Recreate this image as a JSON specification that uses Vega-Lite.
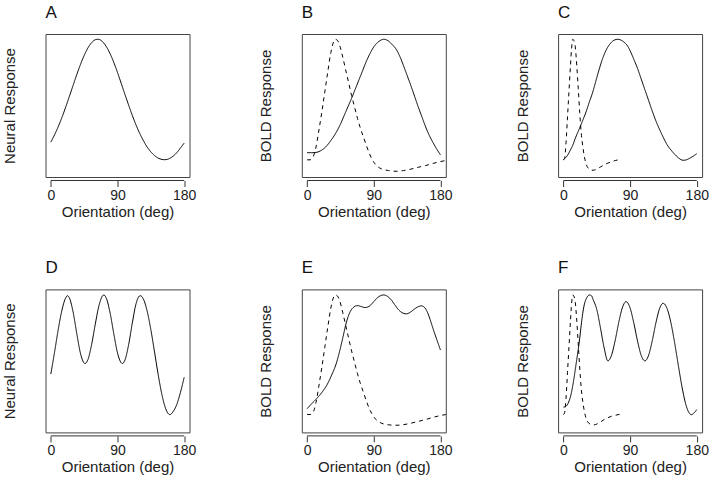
{
  "$schema": "https://vega.github.io/schema/vega-lite/v6.json",
  "background": "white",
  "padding": {"left": 1.5, "top": 3, "right": 5, "bottom": 5},
  "bounds": "flush",
  "columns": 3,
  "spacing": {"row": 112.4, "column": 112.3},
  "data": {"values": [
    {"p":"A","s":"solid","x":0,"y":0.244},{"p":"A","s":"solid","x":5,"y":0.295},{"p":"A","s":"solid","x":10,"y":0.352},{"p":"A","s":"solid","x":15,"y":0.417},{"p":"A","s":"solid","x":20,"y":0.488},{"p":"A","s":"solid","x":25,"y":0.563},{"p":"A","s":"solid","x":30,"y":0.640},{"p":"A","s":"solid","x":35,"y":0.716},{"p":"A","s":"solid","x":40,"y":0.787},{"p":"A","s":"solid","x":45,"y":0.850},{"p":"A","s":"solid","x":50,"y":0.902},{"p":"A","s":"solid","x":55,"y":0.939},{"p":"A","s":"solid","x":60,"y":0.960},{"p":"A","s":"solid","x":63.4,"y":0.963},{"p":"A","s":"solid","x":67,"y":0.958},{"p":"A","s":"solid","x":70,"y":0.945},{"p":"A","s":"solid","x":75,"y":0.911},{"p":"A","s":"solid","x":80,"y":0.862},{"p":"A","s":"solid","x":85,"y":0.801},{"p":"A","s":"solid","x":90,"y":0.731},{"p":"A","s":"solid","x":95,"y":0.655},{"p":"A","s":"solid","x":100,"y":0.578},{"p":"A","s":"solid","x":105,"y":0.503},{"p":"A","s":"solid","x":110,"y":0.431},{"p":"A","s":"solid","x":115,"y":0.364},{"p":"A","s":"solid","x":120,"y":0.305},{"p":"A","s":"solid","x":125,"y":0.254},{"p":"A","s":"solid","x":130,"y":0.210},{"p":"A","s":"solid","x":135,"y":0.176},{"p":"A","s":"solid","x":140,"y":0.150},{"p":"A","s":"solid","x":145,"y":0.132},{"p":"A","s":"solid","x":150,"y":0.123},{"p":"A","s":"solid","x":153,"y":0.121},{"p":"A","s":"solid","x":157,"y":0.123},{"p":"A","s":"solid","x":160,"y":0.129},{"p":"A","s":"solid","x":165,"y":0.145},{"p":"A","s":"solid","x":170,"y":0.170},{"p":"A","s":"solid","x":175,"y":0.203},{"p":"A","s":"solid","x":180,"y":0.237},

    {"p":"B","s":"solid","x":0,"y":0.170},{"p":"B","s":"solid","x":6,"y":0.170},{"p":"B","s":"solid","x":12,"y":0.172},{"p":"B","s":"solid","x":18,"y":0.183},{"p":"B","s":"solid","x":25,"y":0.21},{"p":"B","s":"solid","x":32,"y":0.255},{"p":"B","s":"solid","x":39,"y":0.31},{"p":"B","s":"solid","x":45,"y":0.37},{"p":"B","s":"solid","x":50,"y":0.43},{"p":"B","s":"solid","x":55,"y":0.49},{"p":"B","s":"solid","x":60,"y":0.55},{"p":"B","s":"solid","x":65,"y":0.615},{"p":"B","s":"solid","x":70,"y":0.68},{"p":"B","s":"solid","x":75,"y":0.745},{"p":"B","s":"solid","x":80,"y":0.81},{"p":"B","s":"solid","x":85,"y":0.865},{"p":"B","s":"solid","x":90,"y":0.91},{"p":"B","s":"solid","x":95,"y":0.94},{"p":"B","s":"solid","x":100,"y":0.958},{"p":"B","s":"solid","x":103.3,"y":0.963},{"p":"B","s":"solid","x":106,"y":0.961},{"p":"B","s":"solid","x":110,"y":0.950},{"p":"B","s":"solid","x":115,"y":0.925},{"p":"B","s":"solid","x":120,"y":0.895},{"p":"B","s":"solid","x":125,"y":0.845},{"p":"B","s":"solid","x":130,"y":0.78},{"p":"B","s":"solid","x":135,"y":0.71},{"p":"B","s":"solid","x":140,"y":0.64},{"p":"B","s":"solid","x":145,"y":0.565},{"p":"B","s":"solid","x":150,"y":0.49},{"p":"B","s":"solid","x":155,"y":0.42},{"p":"B","s":"solid","x":160,"y":0.35},{"p":"B","s":"solid","x":165,"y":0.29},{"p":"B","s":"solid","x":170,"y":0.24},{"p":"B","s":"solid","x":175,"y":0.195},{"p":"B","s":"solid","x":180,"y":0.155},

    {"p":"B","s":"dashed","x":0,"y":0.12},{"p":"B","s":"dashed","x":4,"y":0.12},{"p":"B","s":"dashed","x":8,"y":0.14},{"p":"B","s":"dashed","x":12,"y":0.21},{"p":"B","s":"dashed","x":16,"y":0.33},{"p":"B","s":"dashed","x":20,"y":0.46},{"p":"B","s":"dashed","x":24,"y":0.60},{"p":"B","s":"dashed","x":28,"y":0.74},{"p":"B","s":"dashed","x":32,"y":0.87},{"p":"B","s":"dashed","x":35,"y":0.935},{"p":"B","s":"dashed","x":38,"y":0.963},{"p":"B","s":"dashed","x":41,"y":0.955},{"p":"B","s":"dashed","x":44,"y":0.92},{"p":"B","s":"dashed","x":48,"y":0.84},{"p":"B","s":"dashed","x":52,"y":0.75},{"p":"B","s":"dashed","x":56,"y":0.66},{"p":"B","s":"dashed","x":60,"y":0.57},{"p":"B","s":"dashed","x":64,"y":0.49},{"p":"B","s":"dashed","x":68,"y":0.41},{"p":"B","s":"dashed","x":72,"y":0.34},{"p":"B","s":"dashed","x":76,"y":0.28},{"p":"B","s":"dashed","x":80,"y":0.22},{"p":"B","s":"dashed","x":84,"y":0.165},{"p":"B","s":"dashed","x":88,"y":0.12},{"p":"B","s":"dashed","x":92,"y":0.09},{"p":"B","s":"dashed","x":96,"y":0.07},{"p":"B","s":"dashed","x":100,"y":0.058},{"p":"B","s":"dashed","x":105,"y":0.05},{"p":"B","s":"dashed","x":110,"y":0.045},{"p":"B","s":"dashed","x":120,"y":0.04},{"p":"B","s":"dashed","x":130,"y":0.045},{"p":"B","s":"dashed","x":140,"y":0.055},{"p":"B","s":"dashed","x":150,"y":0.068},{"p":"B","s":"dashed","x":160,"y":0.08},{"p":"B","s":"dashed","x":170,"y":0.095},{"p":"B","s":"dashed","x":180,"y":0.108},{"p":"B","s":"dashed","x":190,"y":0.118},

    {"p":"C","s":"solid","x":0,"y":0.122},{"p":"C","s":"solid","x":3,"y":0.135},{"p":"C","s":"solid","x":6,"y":0.155},{"p":"C","s":"solid","x":9,"y":0.185},{"p":"C","s":"solid","x":12.6,"y":0.222},{"p":"C","s":"solid","x":16,"y":0.27},{"p":"C","s":"solid","x":21.5,"y":0.338},{"p":"C","s":"solid","x":26,"y":0.395},{"p":"C","s":"solid","x":30.5,"y":0.455},{"p":"C","s":"solid","x":35,"y":0.525},{"p":"C","s":"solid","x":39.6,"y":0.594},{"p":"C","s":"solid","x":44,"y":0.675},{"p":"C","s":"solid","x":48.5,"y":0.757},{"p":"C","s":"solid","x":53,"y":0.83},{"p":"C","s":"solid","x":57.5,"y":0.886},{"p":"C","s":"solid","x":62,"y":0.925},{"p":"C","s":"solid","x":67,"y":0.952},{"p":"C","s":"solid","x":73.2,"y":0.963},{"p":"C","s":"solid","x":80,"y":0.950},{"p":"C","s":"solid","x":86.7,"y":0.915},{"p":"C","s":"solid","x":92,"y":0.86},{"p":"C","s":"solid","x":95.6,"y":0.816},{"p":"C","s":"solid","x":100,"y":0.76},{"p":"C","s":"solid","x":105,"y":0.685},{"p":"C","s":"solid","x":110,"y":0.61},{"p":"C","s":"solid","x":115,"y":0.535},{"p":"C","s":"solid","x":120,"y":0.46},{"p":"C","s":"solid","x":125,"y":0.39},{"p":"C","s":"solid","x":130,"y":0.33},{"p":"C","s":"solid","x":135,"y":0.275},{"p":"C","s":"solid","x":140,"y":0.225},{"p":"C","s":"solid","x":145,"y":0.19},{"p":"C","s":"solid","x":150,"y":0.16},{"p":"C","s":"solid","x":155,"y":0.135},{"p":"C","s":"solid","x":161.6,"y":0.117},{"p":"C","s":"solid","x":166,"y":0.12},{"p":"C","s":"solid","x":170,"y":0.13},{"p":"C","s":"solid","x":175,"y":0.145},{"p":"C","s":"solid","x":180,"y":0.163},

    {"p":"C","s":"dashed","x":0,"y":0.12},{"p":"C","s":"dashed","x":1.5,"y":0.13},{"p":"C","s":"dashed","x":3.5,"y":0.24},{"p":"C","s":"dashed","x":5.5,"y":0.42},{"p":"C","s":"dashed","x":7.5,"y":0.60},{"p":"C","s":"dashed","x":9.5,"y":0.78},{"p":"C","s":"dashed","x":11,"y":0.90},{"p":"C","s":"dashed","x":12.6,"y":0.963},{"p":"C","s":"dashed","x":14,"y":0.955},{"p":"C","s":"dashed","x":16,"y":0.91},{"p":"C","s":"dashed","x":18,"y":0.78},{"p":"C","s":"dashed","x":20,"y":0.62},{"p":"C","s":"dashed","x":22,"y":0.45},{"p":"C","s":"dashed","x":24,"y":0.31},{"p":"C","s":"dashed","x":26,"y":0.22},{"p":"C","s":"dashed","x":28,"y":0.15},{"p":"C","s":"dashed","x":30.5,"y":0.093},{"p":"C","s":"dashed","x":33,"y":0.065},{"p":"C","s":"dashed","x":36,"y":0.052},{"p":"C","s":"dashed","x":40,"y":0.047},{"p":"C","s":"dashed","x":45,"y":0.055},{"p":"C","s":"dashed","x":50,"y":0.07},{"p":"C","s":"dashed","x":55,"y":0.085},{"p":"C","s":"dashed","x":60,"y":0.097},{"p":"C","s":"dashed","x":65,"y":0.107},{"p":"C","s":"dashed","x":70,"y":0.115},{"p":"C","s":"dashed","x":78,"y":0.124},

    {"p":"D","s":"solid","x":0,"y":0.408},{"p":"D","s":"solid","x":5,"y":0.56},{"p":"D","s":"solid","x":10,"y":0.72},{"p":"D","s":"solid","x":15,"y":0.855},{"p":"D","s":"solid","x":20,"y":0.94},{"p":"D","s":"solid","x":22.3,"y":0.956},{"p":"D","s":"solid","x":25,"y":0.941},{"p":"D","s":"solid","x":30,"y":0.843},{"p":"D","s":"solid","x":35,"y":0.692},{"p":"D","s":"solid","x":40,"y":0.553},{"p":"D","s":"solid","x":46,"y":0.482},{"p":"D","s":"solid","x":50,"y":0.508},{"p":"D","s":"solid","x":55,"y":0.613},{"p":"D","s":"solid","x":60,"y":0.757},{"p":"D","s":"solid","x":65,"y":0.887},{"p":"D","s":"solid","x":71.5,"y":0.961},{"p":"D","s":"solid","x":75,"y":0.937},{"p":"D","s":"solid","x":80,"y":0.836},{"p":"D","s":"solid","x":85,"y":0.690},{"p":"D","s":"solid","x":90,"y":0.556},{"p":"D","s":"solid","x":96.5,"y":0.482},{"p":"D","s":"solid","x":100,"y":0.505},{"p":"D","s":"solid","x":105,"y":0.613},{"p":"D","s":"solid","x":110,"y":0.765},{"p":"D","s":"solid","x":115,"y":0.899},{"p":"D","s":"solid","x":120.6,"y":0.956},{"p":"D","s":"solid","x":125,"y":0.932},{"p":"D","s":"solid","x":130,"y":0.849},{"p":"D","s":"solid","x":135,"y":0.719},{"p":"D","s":"solid","x":140,"y":0.562},{"p":"D","s":"solid","x":145,"y":0.402},{"p":"D","s":"solid","x":150,"y":0.263},{"p":"D","s":"solid","x":155,"y":0.166},{"p":"D","s":"solid","x":160.8,"y":0.124},{"p":"D","s":"solid","x":165,"y":0.145},{"p":"D","s":"solid","x":170,"y":0.195},{"p":"D","s":"solid","x":175,"y":0.28},{"p":"D","s":"solid","x":180,"y":0.385},

    {"p":"E","s":"solid","x":0,"y":0.166},{"p":"E","s":"solid","x":6,"y":0.20},{"p":"E","s":"solid","x":12.6,"y":0.235},{"p":"E","s":"solid","x":20,"y":0.28},{"p":"E","s":"solid","x":26.2,"y":0.327},{"p":"E","s":"solid","x":33,"y":0.40},{"p":"E","s":"solid","x":39.7,"y":0.488},{"p":"E","s":"solid","x":44,"y":0.57},{"p":"E","s":"solid","x":48.6,"y":0.672},{"p":"E","s":"solid","x":52,"y":0.75},{"p":"E","s":"solid","x":55.4,"y":0.81},{"p":"E","s":"solid","x":58.7,"y":0.85},{"p":"E","s":"solid","x":62,"y":0.872},{"p":"E","s":"solid","x":66,"y":0.885},{"p":"E","s":"solid","x":69,"y":0.886},{"p":"E","s":"solid","x":73,"y":0.88},{"p":"E","s":"solid","x":78,"y":0.873},{"p":"E","s":"solid","x":82,"y":0.877},{"p":"E","s":"solid","x":86,"y":0.892},{"p":"E","s":"solid","x":90,"y":0.915},{"p":"E","s":"solid","x":95,"y":0.942},{"p":"E","s":"solid","x":100,"y":0.958},{"p":"E","s":"solid","x":103.3,"y":0.961},{"p":"E","s":"solid","x":108,"y":0.953},{"p":"E","s":"solid","x":113,"y":0.93},{"p":"E","s":"solid","x":118,"y":0.895},{"p":"E","s":"solid","x":123,"y":0.86},{"p":"E","s":"solid","x":128,"y":0.838},{"p":"E","s":"solid","x":134,"y":0.829},{"p":"E","s":"solid","x":140,"y":0.843},{"p":"E","s":"solid","x":145,"y":0.863},{"p":"E","s":"solid","x":150,"y":0.879},{"p":"E","s":"solid","x":154.3,"y":0.885},{"p":"E","s":"solid","x":158,"y":0.876},{"p":"E","s":"solid","x":162,"y":0.845},{"p":"E","s":"solid","x":166,"y":0.79},{"p":"E","s":"solid","x":170,"y":0.725},{"p":"E","s":"solid","x":175,"y":0.65},{"p":"E","s":"solid","x":180,"y":0.576},

    {"p":"E","s":"dashed","x":0,"y":0.125},{"p":"E","s":"dashed","x":4,"y":0.125},{"p":"E","s":"dashed","x":8,"y":0.14},{"p":"E","s":"dashed","x":12,"y":0.21},{"p":"E","s":"dashed","x":16,"y":0.33},{"p":"E","s":"dashed","x":20,"y":0.46},{"p":"E","s":"dashed","x":24,"y":0.60},{"p":"E","s":"dashed","x":28,"y":0.74},{"p":"E","s":"dashed","x":32,"y":0.87},{"p":"E","s":"dashed","x":35,"y":0.935},{"p":"E","s":"dashed","x":38,"y":0.961},{"p":"E","s":"dashed","x":41,"y":0.953},{"p":"E","s":"dashed","x":44,"y":0.92},{"p":"E","s":"dashed","x":48,"y":0.84},{"p":"E","s":"dashed","x":52,"y":0.75},{"p":"E","s":"dashed","x":56,"y":0.66},{"p":"E","s":"dashed","x":60,"y":0.57},{"p":"E","s":"dashed","x":64,"y":0.49},{"p":"E","s":"dashed","x":68,"y":0.41},{"p":"E","s":"dashed","x":72,"y":0.34},{"p":"E","s":"dashed","x":76,"y":0.28},{"p":"E","s":"dashed","x":80,"y":0.22},{"p":"E","s":"dashed","x":84,"y":0.165},{"p":"E","s":"dashed","x":88,"y":0.125},{"p":"E","s":"dashed","x":92,"y":0.095},{"p":"E","s":"dashed","x":96,"y":0.077},{"p":"E","s":"dashed","x":100,"y":0.065},{"p":"E","s":"dashed","x":105,"y":0.057},{"p":"E","s":"dashed","x":110,"y":0.053},{"p":"E","s":"dashed","x":120,"y":0.05},{"p":"E","s":"dashed","x":130,"y":0.054},{"p":"E","s":"dashed","x":140,"y":0.064},{"p":"E","s":"dashed","x":150,"y":0.077},{"p":"E","s":"dashed","x":160,"y":0.09},{"p":"E","s":"dashed","x":170,"y":0.105},{"p":"E","s":"dashed","x":180,"y":0.118},{"p":"E","s":"dashed","x":190,"y":0.127},

    {"p":"F","s":"solid","x":0,"y":0.177},{"p":"F","s":"solid","x":2,"y":0.178},{"p":"F","s":"solid","x":4,"y":0.185},{"p":"F","s":"solid","x":6,"y":0.20},{"p":"F","s":"solid","x":8,"y":0.225},{"p":"F","s":"solid","x":10,"y":0.26},{"p":"F","s":"solid","x":12,"y":0.31},{"p":"F","s":"solid","x":14,"y":0.37},{"p":"F","s":"solid","x":16,"y":0.44},{"p":"F","s":"solid","x":18,"y":0.51},{"p":"F","s":"solid","x":20,"y":0.58},{"p":"F","s":"solid","x":22,"y":0.66},{"p":"F","s":"solid","x":24,"y":0.75},{"p":"F","s":"solid","x":26,"y":0.83},{"p":"F","s":"solid","x":28,"y":0.89},{"p":"F","s":"solid","x":30,"y":0.925},{"p":"F","s":"solid","x":32,"y":0.947},{"p":"F","s":"solid","x":35.2,"y":0.961},{"p":"F","s":"solid","x":38,"y":0.955},{"p":"F","s":"solid","x":40,"y":0.93},{"p":"F","s":"solid","x":45,"y":0.86},{"p":"F","s":"solid","x":50,"y":0.73},{"p":"F","s":"solid","x":55,"y":0.59},{"p":"F","s":"solid","x":60,"y":0.50},{"p":"F","s":"solid","x":65,"y":0.541},{"p":"F","s":"solid","x":70,"y":0.647},{"p":"F","s":"solid","x":75,"y":0.777},{"p":"F","s":"solid","x":80,"y":0.879},{"p":"F","s":"solid","x":84.6,"y":0.914},{"p":"F","s":"solid","x":90,"y":0.870},{"p":"F","s":"solid","x":95,"y":0.765},{"p":"F","s":"solid","x":100,"y":0.640},{"p":"F","s":"solid","x":105,"y":0.538},{"p":"F","s":"solid","x":110,"y":0.50},{"p":"F","s":"solid","x":115,"y":0.54},{"p":"F","s":"solid","x":120,"y":0.643},{"p":"F","s":"solid","x":125,"y":0.77},{"p":"F","s":"solid","x":130,"y":0.869},{"p":"F","s":"solid","x":134.6,"y":0.903},{"p":"F","s":"solid","x":140,"y":0.865},{"p":"F","s":"solid","x":145,"y":0.769},{"p":"F","s":"solid","x":150,"y":0.630},{"p":"F","s":"solid","x":155,"y":0.472},{"p":"F","s":"solid","x":160,"y":0.32},{"p":"F","s":"solid","x":165,"y":0.20},{"p":"F","s":"solid","x":170,"y":0.134},{"p":"F","s":"solid","x":172.8,"y":0.124},{"p":"F","s":"solid","x":176,"y":0.135},{"p":"F","s":"solid","x":180,"y":0.159},

    {"p":"F","s":"dashed","x":0,"y":0.125},{"p":"F","s":"dashed","x":1.5,"y":0.135},{"p":"F","s":"dashed","x":3.5,"y":0.24},{"p":"F","s":"dashed","x":5.5,"y":0.42},{"p":"F","s":"dashed","x":7.5,"y":0.60},{"p":"F","s":"dashed","x":9.5,"y":0.78},{"p":"F","s":"dashed","x":11,"y":0.90},{"p":"F","s":"dashed","x":12.6,"y":0.961},{"p":"F","s":"dashed","x":14,"y":0.953},{"p":"F","s":"dashed","x":16,"y":0.91},{"p":"F","s":"dashed","x":18,"y":0.78},{"p":"F","s":"dashed","x":20,"y":0.62},{"p":"F","s":"dashed","x":22,"y":0.45},{"p":"F","s":"dashed","x":24,"y":0.31},{"p":"F","s":"dashed","x":26,"y":0.22},{"p":"F","s":"dashed","x":28,"y":0.155},{"p":"F","s":"dashed","x":30.5,"y":0.10},{"p":"F","s":"dashed","x":33,"y":0.072},{"p":"F","s":"dashed","x":36,"y":0.058},{"p":"F","s":"dashed","x":40,"y":0.052},{"p":"F","s":"dashed","x":45,"y":0.058},{"p":"F","s":"dashed","x":50,"y":0.073},{"p":"F","s":"dashed","x":55,"y":0.09},{"p":"F","s":"dashed","x":60,"y":0.103},{"p":"F","s":"dashed","x":65,"y":0.113},{"p":"F","s":"dashed","x":70,"y":0.12},{"p":"F","s":"dashed","x":78,"y":0.128}
  ]},
  "concat": [
    {"title": "A", "width": 144, "height": 143, "layer": [
      {"transform": [{"filter": "datum.p === 'A'"}], "mark": {"type": "line", "clip": true},
       "encoding": {
         "x": {"field": "x", "type": "quantitative", "scale": {"domain": [-7.2, 187.2], "nice": false, "zero": false}, "axis": {"title": "Orientation (deg)", "values": [0, 90, 180], "domain": false, "tickSize": 6, "offset": 3.5, "labelPadding": 2, "titlePadding": 2, "labelFlush": false}},
         "y": {"field": "y", "type": "quantitative", "scale": {"domain": [0, 1], "nice": false, "zero": false}, "axis": {"title": "Neural Response", "labels": false, "ticks": false, "domain": false, "titlePadding": 28}},
         "strokeDash": {"field": "s", "type": "nominal", "scale": {"domain": ["solid", "dashed"], "range": [[1, 0], [4, 4]]}, "legend": null}
       }},
      {"data": {"values": [{"k": 1}]}, "mark": {"type": "rule", "clip": false, "color": "#333", "strokeWidth": 1},
       "encoding": {"x": {"datum": 0, "type": "quantitative"}, "x2": {"datum": 180}, "y": {"datum": -0.0245, "type": "quantitative"}}}
    ]},
    {"title": "B", "width": 144, "height": 143, "layer": [
      {"transform": [{"filter": "datum.p === 'B'"}], "mark": {"type": "line", "clip": true},
       "encoding": {
         "x": {"field": "x", "type": "quantitative", "scale": {"domain": [-7.2, 187.2], "nice": false, "zero": false}, "axis": {"title": "Orientation (deg)", "values": [0, 90, 180], "domain": false, "tickSize": 6, "offset": 3.5, "labelPadding": 2, "titlePadding": 2, "labelFlush": false}},
         "y": {"field": "y", "type": "quantitative", "scale": {"domain": [0, 1], "nice": false, "zero": false}, "axis": {"title": "BOLD Response", "labels": false, "ticks": false, "domain": false, "titlePadding": 28}},
         "strokeDash": {"field": "s", "type": "nominal", "scale": {"domain": ["solid", "dashed"], "range": [[1, 0], [4, 4]]}, "legend": null}
       }},
      {"data": {"values": [{"k": 1}]}, "mark": {"type": "rule", "clip": false, "color": "#333", "strokeWidth": 1},
       "encoding": {"x": {"datum": 0, "type": "quantitative"}, "x2": {"datum": 180}, "y": {"datum": -0.0245, "type": "quantitative"}}}
    ]},
    {"title": "C", "width": 144, "height": 143, "layer": [
      {"transform": [{"filter": "datum.p === 'C'"}], "mark": {"type": "line", "clip": true},
       "encoding": {
         "x": {"field": "x", "type": "quantitative", "scale": {"domain": [-7.2, 187.2], "nice": false, "zero": false}, "axis": {"title": "Orientation (deg)", "values": [0, 90, 180], "domain": false, "tickSize": 6, "offset": 3.5, "labelPadding": 2, "titlePadding": 2, "labelFlush": false}},
         "y": {"field": "y", "type": "quantitative", "scale": {"domain": [0, 1], "nice": false, "zero": false}, "axis": {"title": "BOLD Response", "labels": false, "ticks": false, "domain": false, "titlePadding": 28}},
         "strokeDash": {"field": "s", "type": "nominal", "scale": {"domain": ["solid", "dashed"], "range": [[1, 0], [4, 4]]}, "legend": null}
       }},
      {"data": {"values": [{"k": 1}]}, "mark": {"type": "rule", "clip": false, "color": "#333", "strokeWidth": 1},
       "encoding": {"x": {"datum": 0, "type": "quantitative"}, "x2": {"datum": 180}, "y": {"datum": -0.0245, "type": "quantitative"}}}
    ]},
    {"title": "D", "width": 144, "height": 143, "layer": [
      {"transform": [{"filter": "datum.p === 'D'"}], "mark": {"type": "line", "clip": true},
       "encoding": {
         "x": {"field": "x", "type": "quantitative", "scale": {"domain": [-7.2, 187.2], "nice": false, "zero": false}, "axis": {"title": "Orientation (deg)", "values": [0, 90, 180], "domain": false, "tickSize": 6, "offset": 3.5, "labelPadding": 2, "titlePadding": 2, "labelFlush": false}},
         "y": {"field": "y", "type": "quantitative", "scale": {"domain": [0, 1], "nice": false, "zero": false}, "axis": {"title": "Neural Response", "labels": false, "ticks": false, "domain": false, "titlePadding": 28}},
         "strokeDash": {"field": "s", "type": "nominal", "scale": {"domain": ["solid", "dashed"], "range": [[1, 0], [4, 4]]}, "legend": null}
       }},
      {"data": {"values": [{"k": 1}]}, "mark": {"type": "rule", "clip": false, "color": "#333", "strokeWidth": 1},
       "encoding": {"x": {"datum": 0, "type": "quantitative"}, "x2": {"datum": 180}, "y": {"datum": -0.0245, "type": "quantitative"}}}
    ]},
    {"title": "E", "width": 144, "height": 143, "layer": [
      {"transform": [{"filter": "datum.p === 'E'"}], "mark": {"type": "line", "clip": true},
       "encoding": {
         "x": {"field": "x", "type": "quantitative", "scale": {"domain": [-7.2, 187.2], "nice": false, "zero": false}, "axis": {"title": "Orientation (deg)", "values": [0, 90, 180], "domain": false, "tickSize": 6, "offset": 3.5, "labelPadding": 2, "titlePadding": 2, "labelFlush": false}},
         "y": {"field": "y", "type": "quantitative", "scale": {"domain": [0, 1], "nice": false, "zero": false}, "axis": {"title": "BOLD Response", "labels": false, "ticks": false, "domain": false, "titlePadding": 28}},
         "strokeDash": {"field": "s", "type": "nominal", "scale": {"domain": ["solid", "dashed"], "range": [[1, 0], [4, 4]]}, "legend": null}
       }},
      {"data": {"values": [{"k": 1}]}, "mark": {"type": "rule", "clip": false, "color": "#333", "strokeWidth": 1},
       "encoding": {"x": {"datum": 0, "type": "quantitative"}, "x2": {"datum": 180}, "y": {"datum": -0.0245, "type": "quantitative"}}}
    ]},
    {"title": "F", "width": 144, "height": 143, "layer": [
      {"transform": [{"filter": "datum.p === 'F'"}], "mark": {"type": "line", "clip": true},
       "encoding": {
         "x": {"field": "x", "type": "quantitative", "scale": {"domain": [-7.2, 187.2], "nice": false, "zero": false}, "axis": {"title": "Orientation (deg)", "values": [0, 90, 180], "domain": false, "tickSize": 6, "offset": 3.5, "labelPadding": 2, "titlePadding": 2, "labelFlush": false}},
         "y": {"field": "y", "type": "quantitative", "scale": {"domain": [0, 1], "nice": false, "zero": false}, "axis": {"title": "BOLD Response", "labels": false, "ticks": false, "domain": false, "titlePadding": 28}},
         "strokeDash": {"field": "s", "type": "nominal", "scale": {"domain": ["solid", "dashed"], "range": [[1, 0], [4, 4]]}, "legend": null}
       }},
      {"data": {"values": [{"k": 1}]}, "mark": {"type": "rule", "clip": false, "color": "#333", "strokeWidth": 1},
       "encoding": {"x": {"datum": 0, "type": "quantitative"}, "x2": {"datum": 180}, "y": {"datum": -0.0245, "type": "quantitative"}}}
    ]}
  ],
  "config": {
    "view": {"stroke": "#444", "strokeWidth": 1},
    "axis": {"grid": false, "labelFont": "Liberation Sans", "titleFont": "Liberation Sans", "labelFontSize": 14, "titleFontSize": 15, "titleFontWeight": "normal", "labelColor": "#222", "titleColor": "#222", "tickColor": "#333", "labelOverlap": false},
    "title": {"font": "Liberation Sans", "fontSize": 17, "fontWeight": "normal", "anchor": "start", "frame": "group", "offset": 12, "color": "#111"},
    "line": {"color": "black", "strokeWidth": 1, "interpolate": "monotone"}
  }
}
